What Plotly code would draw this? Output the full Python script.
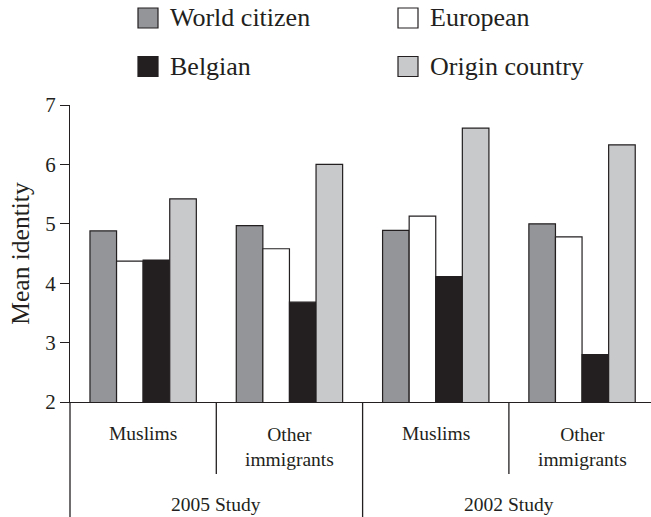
import plotly.graph_objects as go

# ---- data ----
series_names = ["World citizen", "European", "Belgian", "Origin country"]
group_labels = ["Muslims", "Other<br>immigrants", "Muslims", "Other<br>immigrants"]
study_labels = ["2005 Study", "2002 Study"]
world_citizen = [4.88, 4.97, 4.89, 5.00]
european = [4.37, 4.58, 5.13, 4.78]
belgian = [4.39, 3.68, 4.11, 2.80]
origin_country = [5.42, 6.00, 6.61, 6.33]
y_ticks = [2, 3, 4, 5, 6, 7]

series_values = [world_citizen, european, belgian, origin_country]
colors = ["#939598", "#ffffff", "#231f20", "#c8c9ca"]
LINE = "#231f20"
TXT = "#231f20"
FONT = "Liberation Serif, Times New Roman, DejaVu Serif, serif"

PAGE_W, PAGE_H = 651, 517
W, H = PAGE_W, PAGE_H
AX_L, AX_T, AX_B = 70, 105, 402          # pixel positions of plot area
ML = AX_L
MT = AX_T
plot_h = AX_B - AX_T
MB = H - MT - plot_h
MR = 0
plot_w = W - ML - MR
group_px = 146.3
x_end = plot_w / group_px - 0.5

xs = list(range(len(group_labels)))

fig = go.Figure()
for name, vals, col in zip(series_names, series_values, colors):
    fig.add_trace(go.Bar(
        x=xs, y=vals, name=name,
        marker=dict(color=col, line=dict(color=LINE, width=1.2)),
        showlegend=False,
    ))

def py(page_y):
    return (AX_B - page_y) / plot_h

def px(page_x):
    return (page_x - AX_L) / plot_w

shapes = []
annotations = []

# legend (manual, 2 columns)
leg_cols = [138, 398]
leg_rows = [18, 66.5]
sw = 20
for i, (name, col) in enumerate(zip(series_names, colors)):
    cx = leg_cols[i % 2]
    cy = leg_rows[i // 2]
    shapes.append(dict(type="rect", xref="paper", yref="paper",
                       x0=px(cx), x1=px(cx + sw), y0=py(cy + sw / 2), y1=py(cy - sw / 2),
                       fillcolor=col, line=dict(color=LINE, width=1.2)))
    annotations.append(dict(text=name, xref="paper", yref="paper",
                            x=px(cx + sw + 10), y=py(cy), xanchor="left", yanchor="middle",
                            showarrow=False, font=dict(family=FONT, size=26, color=TXT)))

# category table below the axis
bottom = py(PAGE_H)
inner_bottom = py(474)
shapes.append(dict(type="line", xref="paper", yref="paper", x0=0, x1=0, y0=0, y1=bottom,
                   line=dict(color=LINE, width=1.3)))
for b in [0.5, 2.5]:
    shapes.append(dict(type="line", xref="x", yref="paper", x0=b, x1=b, y0=0, y1=inner_bottom,
                       line=dict(color=LINE, width=1.3)))
shapes.append(dict(type="line", xref="x", yref="paper", x0=1.5, x1=1.5, y0=0, y1=bottom,
                   line=dict(color=LINE, width=1.3)))

for x, lab in zip(xs, group_labels):
    yc = 446.5 if "<br>" in lab else 433
    annotations.append(dict(text=lab, xref="x", yref="paper", x=x, y=py(yc),
                            xanchor="center", yanchor="middle", showarrow=False,
                            font=dict(family=FONT, size=19.5, color=TXT)))
for k, lab in enumerate(study_labels):
    annotations.append(dict(text=lab, xref="x", yref="paper", x=2 * k + 0.5, y=py(504),
                            xanchor="center", yanchor="middle", showarrow=False,
                            font=dict(family=FONT, size=19.5, color=TXT)))

fig.update_layout(
    width=W, height=H,
    margin=dict(l=ML, r=MR, t=MT, b=MB),
    paper_bgcolor="white", plot_bgcolor="white",
    barmode="group", bargap=0.273, bargroupgap=0,
    font=dict(family=FONT, color=TXT),
    shapes=shapes, annotations=annotations,
    xaxis=dict(range=[-0.5, x_end], showticklabels=False, ticks="", showgrid=False,
               zeroline=False, showline=True, linecolor=LINE, linewidth=1.3),
    yaxis=dict(range=[2, 7], tickvals=y_ticks, ticks="outside", ticklen=9, tickwidth=1.3,
               tickcolor=LINE, showgrid=False, zeroline=False, showline=True,
               linecolor=LINE, linewidth=1.3,
               tickfont=dict(family=FONT, size=21, color=TXT),
               title=dict(text="Mean identity", standoff=8,
                          font=dict(family=FONT, size=25.5, color=TXT))),
)

fig.write_html("out.html", config={"displayModeBar": False},
               post_script="document.body.style.margin='0px';")
